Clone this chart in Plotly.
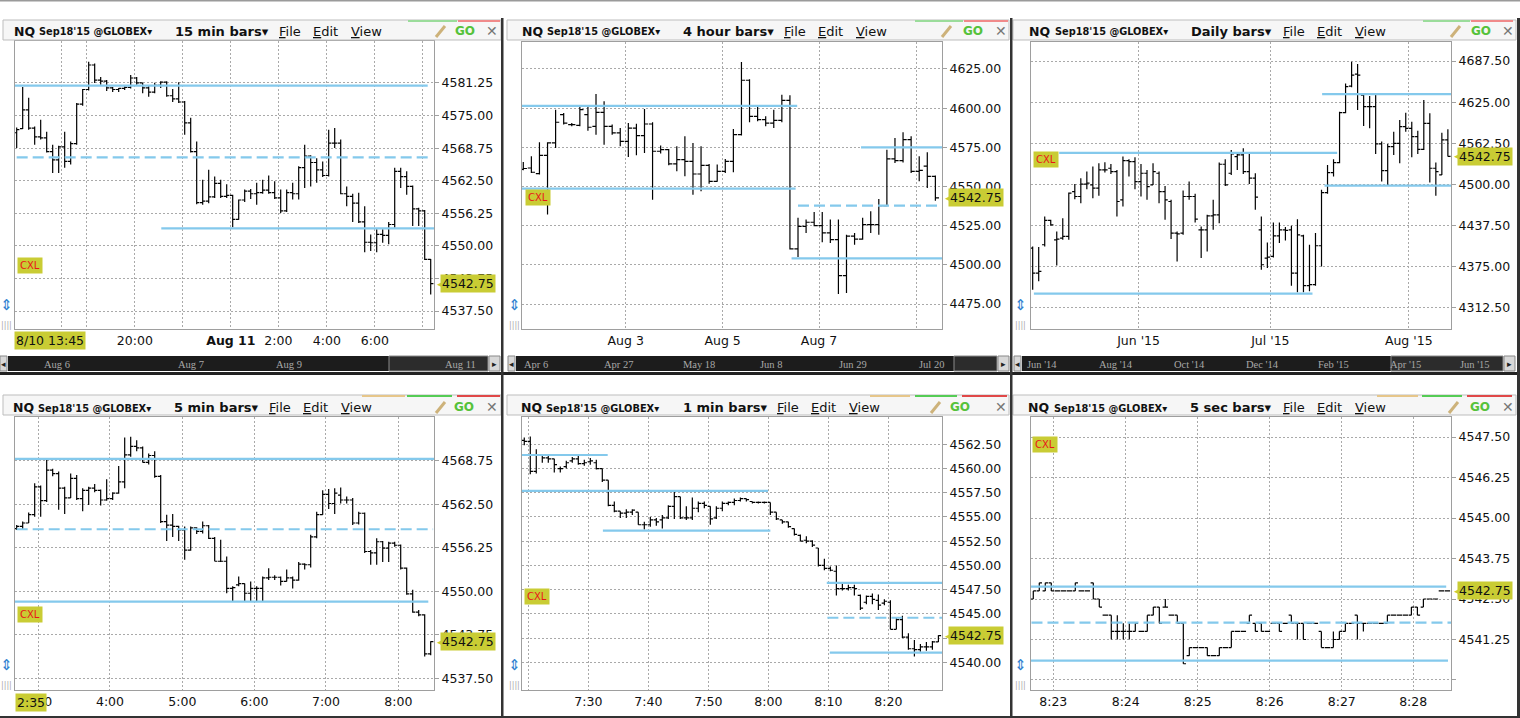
import plotly.graph_objects as go

W, H = 1520, 718
FONT = "DejaVu Sans"
LEVEL_BLUE = "#84c9ec"
LABEL_YELLOW = "#c9cc34"

# ---------- 15 min bars
m15_open = [4571.7, 4572.5, 4576.1, 4572.6, 4570.9, 4570.7, 4568.1, 4566.5, 4569.0, 4566.2,
            4569.6, 4577.2, 4580.0, 4584.7, 4581.8, 4581.6, 4580.3, 4580.0, 4580.2, 4580.4,
            4582.2, 4581.25, 4580.3, 4579.5, 4580.8, 4581.4, 4578.8, 4578.2, 4577.6, 4573.6,
            4568.1, 4558.3, 4558.6, 4559.4, 4562.0, 4559.5, 4559.7, 4555.1, 4558.8, 4560.5,
            4560.0, 4560.2, 4560.7, 4560.2, 4559.2, 4556.7, 4560.2, 4560.0, 4565.0, 4567.2,
            4566.0, 4564.6, 4563.5, 4569.7, 4569.7, 4560.0, 4559.5, 4558.2, 4554.6, 4550.7,
            4550.6, 4552.2, 4552.0, 4554.1, 4564.3, 4563.3, 4561.4, 4557.1, 4556.7, 4547.4]
m15_high = [4572.7, 4580.5, 4578.4, 4572.9, 4574.2, 4571.9, 4569.4, 4569.2, 4571.9, 4570.0,
            4577.4, 4580.1, 4585.3, 4585.0, 4582.4, 4581.8, 4580.5, 4580.3, 4580.6, 4582.8,
            4582.4, 4581.3, 4580.8, 4581.3, 4581.6, 4581.6, 4580.1, 4581.4, 4577.8, 4574.6,
            4570.0, 4562.7, 4564.6, 4563.3, 4562.7, 4561.8, 4559.8, 4558.9, 4560.8, 4560.9,
            4562.1, 4562.7, 4563.5, 4562.4, 4560.8, 4560.8, 4562.1, 4565.3, 4569.4, 4567.4,
            4566.8, 4566.2, 4572.3, 4572.6, 4570.4, 4561.4, 4560.0, 4560.2, 4557.6, 4552.2,
            4553.2, 4553.2, 4554.6, 4565.0, 4565.0, 4564.3, 4561.6, 4557.3, 4556.9, 4547.5]
m15_low = [4568.8, 4572.4, 4572.3, 4569.4, 4570.4, 4567.9, 4564.0, 4564.0, 4565.0, 4565.6,
           4569.4, 4576.9, 4579.8, 4581.25, 4580.9, 4579.7, 4579.5, 4579.5, 4579.9, 4580.2,
           4580.9, 4579.3, 4578.6, 4579.3, 4580.3, 4578.6, 4577.6, 4577.4, 4571.3, 4567.9,
           4558.0, 4557.9, 4558.2, 4559.2, 4559.2, 4559.2, 4553.6, 4555.0, 4558.4, 4559.0,
           4557.9, 4560.0, 4560.0, 4559.0, 4556.3, 4556.5, 4558.9, 4558.9, 4561.1, 4561.4,
           4562.1, 4563.2, 4563.3, 4568.8, 4559.9, 4557.6, 4554.6, 4554.4, 4548.8, 4549.0,
           4548.8, 4550.6, 4550.3, 4553.5, 4561.1, 4559.8, 4553.8, 4553.8, 4547.3, 4540.7]
m15_close = [4572.3, 4576.1, 4572.6, 4570.9, 4570.7, 4568.1, 4566.5, 4569.0, 4566.2, 4569.6,
             4577.2, 4580.0, 4584.7, 4581.8, 4581.6, 4580.3, 4580.0, 4580.2, 4580.4, 4582.2,
             4581.25, 4580.3, 4579.5, 4580.8, 4581.4, 4578.8, 4578.2, 4577.6, 4573.6, 4568.1,
             4558.3, 4558.6, 4559.4, 4562.0, 4559.5, 4559.7, 4555.1, 4558.8, 4560.5, 4560.0,
             4560.2, 4560.7, 4560.2, 4559.2, 4556.7, 4560.2, 4560.0, 4565.0, 4567.2, 4566.0,
             4564.6, 4563.5, 4569.7, 4569.7, 4560.0, 4559.5, 4558.2, 4554.6, 4550.7, 4550.6,
             4552.2, 4552.0, 4554.1, 4564.3, 4563.3, 4561.4, 4557.1, 4556.7, 4547.4, 4542.75]
m15_levels = [4580.75, 4566.97, 4553.35]
m15_level_from = [-0.3, 0.0, 24.1]
m15_level_to = [68.5, 69.2, 69.6]
m15_level_dash = ["solid", "dash", "solid"]
m15_yticks = [4537.5, 4543.75, 4550.0, 4556.25, 4562.5, 4568.75, 4575.0, 4581.25]
m15_xticks = [7.4, 11.7, 19.7, 27.7, 35.7, 43.6, 51.7, 59.7, 67.7]
m15_xlabels = ["", "", "20:00", "", "<b>Aug 11</b>", "2:00", "4:00", "6:00", ""]

# ---------- 4 hour bars
h4_open = [4561.0, 4561.8, 4558.2, 4569.9, 4577.8, 4595.9, 4589.5, 4589.0, 4595.9, 4588.4,
           4597.3, 4588.4, 4584.2, 4578.8, 4587.3, 4582.5, 4589.9, 4572.5, 4573.5, 4564.4,
           4567.2, 4566.1, 4558.0, 4563.5, 4553.3, 4559.7, 4566.1, 4583.1, 4617.8, 4594.8,
           4592.7, 4590.5, 4592.2, 4605.0, 4510.2, 4524.6, 4527.2, 4525.1, 4520.4, 4516.1,
           4493.2, 4518.3, 4516.5, 4525.7, 4525.7, 4537.8, 4567.6, 4566.5, 4579.9, 4559.7,
           4563.0, 4556.5]
h4_high = [4565.7, 4569.3, 4578.2, 4578.2, 4599.0, 4596.9, 4590.5, 4601.2, 4601.2, 4609.0,
           4604.4, 4589.5, 4587.3, 4590.5, 4590.1, 4599.5, 4591.0, 4576.1, 4574.0, 4575.7,
           4582.0, 4577.8, 4575.7, 4564.4, 4564.0, 4567.6, 4586.7, 4629.4, 4618.5, 4600.7,
           4594.8, 4599.0, 4608.6, 4608.2, 4530.0, 4528.9, 4533.8, 4533.8, 4528.9, 4528.9,
           4519.3, 4520.4, 4530.0, 4534.2, 4542.1, 4573.5, 4581.0, 4584.6, 4582.0, 4569.3,
           4571.8, 4557.0]
h4_low = [4560.3, 4558.7, 4557.6, 4532.1, 4574.6, 4589.5, 4588.4, 4588.4, 4585.6, 4583.1,
          4576.7, 4583.1, 4575.7, 4568.9, 4569.9, 4571.4, 4541.6, 4571.0, 4563.5, 4559.7,
          4556.5, 4544.8, 4547.0, 4551.8, 4553.0, 4558.6, 4559.1, 4582.5, 4591.0, 4591.6,
          4588.4, 4587.3, 4591.0, 4509.8, 4505.1, 4520.4, 4524.6, 4514.4, 4514.0, 4481.5,
          4482.1, 4512.9, 4516.0, 4520.4, 4519.3, 4537.4, 4565.0, 4565.4, 4558.6, 4553.3,
          4549.1, 4541.0]
h4_close = [4561.5, 4559.1, 4569.9, 4577.8, 4591.0, 4590.5, 4589.5, 4599.0, 4587.8, 4597.3,
            4588.4, 4584.2, 4578.8, 4587.3, 4582.5, 4589.9, 4572.5, 4573.5, 4564.4, 4567.2,
            4566.1, 4558.0, 4563.5, 4553.3, 4559.7, 4566.1, 4583.1, 4617.8, 4594.8, 4592.7,
            4590.5, 4592.2, 4605.0, 4510.2, 4524.6, 4527.2, 4525.1, 4520.4, 4516.1, 4493.2,
            4518.3, 4516.5, 4525.7, 4525.7, 4537.8, 4567.6, 4566.5, 4579.9, 4559.7, 4560.3,
            4556.5, 4542.75]
h4_levels = [4601.5, 4548.7, 4575.0, 4537.8, 4504.2]
h4_level_from = [-0.5, -0.2, 41.8, 34.0, 33.2]
h4_level_to = [33.9, 33.7, 52.5, 51.8, 53.7]
h4_level_dash = ["solid", "solid", "solid", "dash", "solid"]
h4_yticks = [4475.0, 4500.0, 4525.0, 4550.0, 4575.0, 4600.0, 4625.0]
h4_xticks = [12.67, 24.67, 36.6, 48.66]
h4_xlabels = ["Aug 3", "Aug 5", "Aug 7", ""]

# ---------- daily bars
d1_open = [4403.4, 4365.5, 4408.5, 4445.4, 4416.0, 4418.6, 4421.1, 4489.3, 4481.8, 4500.5,
           4499.4, 4494.4, 4522.2, 4524.7, 4519.7, 4476.7, 4536.3, 4534.8, 4504.5, 4517.1,
           4499.4, 4517.1, 4489.3, 4474.2, 4426.2, 4426.2, 4481.8, 4481.8, 4431.2, 4431.2,
           4452.4, 4454.0, 4530.8, 4517.1, 4542.4, 4544.9, 4519.7, 4509.6, 4431.2, 4388.2,
           4390.8, 4422.1, 4431.2, 4431.2, 4365.5, 4422.1, 4346.3, 4347.8, 4407.0, 4487.8,
           4518.1, 4533.3, 4609.1, 4649.6, 4667.8, 4635.9, 4618.2, 4618.2, 4561.6, 4521.2,
           4557.6, 4562.6, 4587.9, 4585.4, 4572.7, 4553.5, 4593.0, 4524.7, 4514.6, 4567.7]
d1_high = [4405.9, 4404.9, 4451.4, 4446.4, 4428.7, 4448.9, 4487.8, 4500.9, 4509.6, 4519.7,
           4527.2, 4532.3, 4533.8, 4531.3, 4522.2, 4542.4, 4538.4, 4541.4, 4531.3, 4522.2,
           4532.3, 4519.7, 4497.9, 4476.7, 4428.7, 4490.9, 4504.5, 4485.8, 4436.3, 4454.0,
           4476.7, 4533.3, 4538.4, 4552.5, 4547.5, 4555.0, 4547.5, 4517.1, 4451.4, 4412.0,
           4442.3, 4442.3, 4435.3, 4437.3, 4447.4, 4423.6, 4408.5, 4426.2, 4491.9, 4529.8,
           4538.4, 4610.7, 4653.6, 4686.5, 4682.9, 4635.9, 4634.4, 4635.9, 4565.2, 4561.6,
           4580.3, 4598.0, 4609.1, 4595.5, 4581.8, 4628.4, 4608.1, 4533.3, 4578.8, 4583.9]
d1_low = [4340.2, 4352.9, 4405.9, 4437.3, 4377.1, 4416.0, 4416.0, 4477.7, 4471.6, 4492.9,
          4479.2, 4482.8, 4518.1, 4516.1, 4451.4, 4466.6, 4512.1, 4492.9, 4481.8, 4476.7,
          4499.4, 4471.6, 4446.4, 4417.1, 4383.2, 4423.6, 4476.7, 4442.3, 4388.2, 4398.3,
          4431.2, 4441.3, 4497.9, 4514.6, 4522.2, 4516.1, 4500.9, 4461.5, 4370.5, 4373.1,
          4389.0, 4411.0, 4415.0, 4346.3, 4336.2, 4336.2, 4337.7, 4346.3, 4375.6, 4485.8,
          4512.1, 4532.3, 4608.1, 4647.6, 4613.2, 4588.9, 4585.4, 4546.5, 4504.5, 4499.4,
          4544.9, 4532.3, 4580.3, 4541.4, 4546.5, 4552.5, 4503.0, 4482.8, 4514.6, 4542.4]
d1_close = [4365.5, 4368.0, 4445.4, 4438.8, 4417.1, 4421.1, 4486.8, 4481.8, 4500.5, 4502.0,
            4494.4, 4522.2, 4522.2, 4519.7, 4474.2, 4536.3, 4534.8, 4504.5, 4517.1, 4496.9,
            4519.7, 4489.3, 4476.7, 4426.2, 4425.1, 4481.8, 4481.8, 4447.4, 4431.2, 4452.4,
            4454.0, 4530.8, 4499.4, 4546.5, 4544.9, 4519.7, 4509.6, 4480.7, 4378.1, 4389.8,
            4422.1, 4431.2, 4430.2, 4365.5, 4423.6, 4346.3, 4347.8, 4407.0, 4487.8, 4518.1,
            4533.3, 4609.1, 4648.6, 4666.3, 4666.3, 4618.2, 4618.2, 4561.6, 4521.2, 4557.6,
            4562.6, 4587.9, 4585.4, 4572.7, 4553.5, 4593.0, 4524.7, 4519.7, 4567.7, 4542.75]
d1_levels = [4548.0, 4334.1, 4637.4, 4498.4]
d1_level_from = [4.4, 0.2, 48.1, 48.5]
d1_level_to = [50.6, 46.5, 70.2, 70.8]
d1_level_dash = ["solid", "solid", "solid", "solid"]
d1_yticks = [4312.5, 4375.0, 4437.5, 4500.0, 4562.5, 4625.0, 4687.5]
d1_xticks = [17.6, 39.5, 62.5]
d1_xlabels = ["Jun '15", "Jul '15", "Aug '15"]

# ---------- 5 min bars
m5_open = [4559.0, 4559.3, 4559.8, 4561.0, 4565.0, 4563.0, 4567.4, 4566.9, 4564.8, 4563.4,
           4566.2, 4563.3, 4564.5, 4564.8, 4564.5, 4563.1, 4563.3, 4564.1, 4565.7, 4569.6,
           4570.8, 4570.6, 4568.5, 4569.5, 4566.5, 4560.0, 4559.5, 4559.3, 4558.8, 4555.9,
           4559.1, 4558.6, 4559.4, 4557.6, 4554.3, 4554.3, 4550.4, 4550.9, 4551.1, 4549.7,
           4550.4, 4550.4, 4551.9, 4552.0, 4552.0, 4551.4, 4551.9, 4551.6, 4553.9, 4553.8,
           4557.8, 4561.0, 4563.9, 4562.6, 4563.8, 4563.1, 4563.1, 4559.8, 4561.2, 4555.7,
           4555.5, 4557.1, 4556.2, 4556.9, 4556.6, 4553.3, 4549.6, 4547.0, 4546.6, 4541.0]
m5_high = [4559.5, 4560.0, 4561.3, 4565.5, 4565.2, 4568.9, 4567.6, 4567.2, 4565.0, 4566.9,
           4566.7, 4564.8, 4565.0, 4565.4, 4564.6, 4566.1, 4564.2, 4568.0, 4572.1, 4572.2,
           4571.7, 4570.8, 4569.8, 4570.1, 4566.7, 4561.0, 4561.1, 4559.4, 4559.3, 4559.3,
           4559.2, 4560.0, 4559.5, 4557.8, 4557.4, 4555.0, 4550.7, 4552.1, 4551.1, 4551.4,
           4550.7, 4552.1, 4553.3, 4552.3, 4552.1, 4553.1, 4552.1, 4554.2, 4554.0, 4558.1,
           4561.4, 4564.5, 4564.7, 4564.8, 4564.9, 4563.6, 4563.4, 4561.4, 4561.3, 4555.9,
           4557.6, 4557.2, 4557.1, 4557.1, 4556.7, 4553.4, 4550.2, 4547.3, 4546.7, 4542.8]
m5_low = [4558.8, 4558.8, 4559.8, 4560.7, 4560.7, 4562.8, 4566.5, 4561.7, 4561.1, 4563.4,
          4563.1, 4561.5, 4562.4, 4564.2, 4562.3, 4563.0, 4563.1, 4564.0, 4564.8, 4569.3,
          4570.1, 4568.5, 4568.2, 4566.3, 4559.8, 4557.2, 4557.8, 4557.2, 4554.5, 4555.8,
          4558.2, 4558.3, 4557.5, 4554.3, 4554.2, 4549.7, 4548.5, 4550.7, 4548.6, 4548.6,
          4548.6, 4548.6, 4551.6, 4551.6, 4550.8, 4551.4, 4550.4, 4551.5, 4553.1, 4553.4,
          4557.6, 4561.0, 4561.8, 4561.1, 4562.6, 4562.6, 4559.5, 4559.6, 4555.5, 4553.8,
          4553.8, 4554.2, 4554.2, 4556.4, 4553.1, 4549.5, 4546.9, 4546.4, 4540.6, 4540.8]
m5_close = [4559.3, 4559.8, 4561.0, 4565.0, 4563.0, 4567.4, 4566.9, 4564.8, 4563.4, 4566.2,
            4563.3, 4564.5, 4564.8, 4564.5, 4563.1, 4563.3, 4564.1, 4565.7, 4569.6, 4570.8,
            4570.6, 4568.5, 4569.5, 4566.5, 4560.0, 4559.5, 4559.3, 4558.8, 4555.9, 4559.1,
            4558.6, 4559.4, 4557.6, 4554.3, 4554.3, 4550.4, 4550.5, 4551.1, 4549.7, 4550.4,
            4550.4, 4551.9, 4552.0, 4552.0, 4551.4, 4551.9, 4551.6, 4553.9, 4553.8, 4557.8,
            4561.0, 4563.9, 4562.6, 4564.1, 4563.1, 4563.1, 4559.8, 4561.2, 4555.7, 4555.5,
            4557.1, 4556.2, 4556.9, 4556.6, 4553.3, 4549.6, 4547.0, 4546.6, 4541.0, 4542.75]
m5_levels = [4569.0, 4558.9, 4548.5]
m5_level_from = [-0.3, 0.0, -0.3]
m5_level_to = [70.9, 69.4, 68.6]
m5_level_dash = ["solid", "dash", "solid"]
m5_yticks = [4537.5, 4543.75, 4550.0, 4556.25, 4562.5, 4568.75]
m5_xticks = [3.6, 15.55, 27.6, 39.6, 51.55, 63.6]
m5_xlabels = ["3:00", "4:00", "5:00", "6:00", "7:00", "8:00"]

# ---------- 1 min bars
m1_open = [4562.9, 4562.8, 4559.7, 4561.4, 4561.1, 4561.0, 4560.0, 4560.2, 4560.8, 4561.0,
           4560.5, 4560.7, 4560.6, 4560.0, 4558.8, 4556.2, 4555.6, 4555.4, 4555.5, 4555.5,
           4554.2, 4554.2, 4554.7, 4554.7, 4554.9, 4556.1, 4557.1, 4554.9, 4554.9, 4555.9,
           4556.4, 4556.1, 4554.9, 4555.9, 4556.4, 4556.5, 4556.7, 4556.9, 4556.6, 4556.5,
           4556.5, 4556.5, 4555.5, 4554.7, 4554.5, 4553.8, 4553.1, 4552.6, 4552.5, 4551.8,
           4550.0, 4549.7, 4549.4, 4547.6, 4547.6, 4547.7, 4546.9, 4546.2, 4546.8, 4546.4,
           4546.1, 4546.2, 4543.4, 4544.4, 4542.6, 4541.4, 4541.3, 4541.6, 4541.6, 4542.1]
m1_high = [4563.2, 4563.3, 4562.0, 4561.4, 4561.3, 4561.0, 4560.2, 4560.8, 4561.2, 4561.4,
           4560.9, 4561.1, 4560.9, 4560.0, 4558.8, 4556.6, 4555.6, 4555.8, 4555.8, 4555.5,
           4554.5, 4555.0, 4554.9, 4555.2, 4556.2, 4557.6, 4557.1, 4556.1, 4557.0, 4556.6,
           4556.6, 4556.1, 4556.1, 4556.6, 4556.6, 4556.9, 4557.0, 4556.9, 4556.6, 4556.6,
           4556.6, 4556.5, 4555.5, 4554.7, 4554.5, 4553.8, 4553.2, 4553.0, 4552.6, 4551.8,
           4550.7, 4549.9, 4550.0, 4548.2, 4548.0, 4548.0, 4547.0, 4546.9, 4547.1, 4547.0,
           4546.5, 4546.4, 4544.6, 4544.8, 4543.0, 4542.3, 4541.9, 4542.1, 4542.2, 4542.8]
m1_low = [4562.4, 4559.4, 4559.5, 4560.6, 4560.6, 4559.6, 4559.6, 4560.0, 4560.6, 4560.4,
          4560.3, 4560.4, 4559.9, 4558.6, 4556.1, 4555.5, 4554.9, 4554.9, 4555.2, 4554.2,
          4553.7, 4554.0, 4554.1, 4553.8, 4554.8, 4554.8, 4554.8, 4554.7, 4554.7, 4555.5,
          4555.9, 4554.2, 4554.8, 4555.6, 4556.2, 4556.2, 4556.6, 4556.6, 4556.4, 4556.4,
          4556.4, 4555.2, 4554.7, 4554.3, 4553.9, 4553.1, 4552.5, 4552.3, 4551.9, 4549.9,
          4549.5, 4549.4, 4546.9, 4547.4, 4547.4, 4546.9, 4545.4, 4546.0, 4546.0, 4545.4,
          4545.9, 4543.4, 4543.4, 4542.5, 4541.3, 4540.6, 4541.1, 4541.2, 4541.3, 4542.1]
m1_close = [4562.8, 4559.7, 4561.4, 4561.1, 4561.0, 4560.4, 4560.0, 4560.6, 4561.0, 4560.5,
            4560.6, 4560.8, 4560.0, 4558.8, 4556.2, 4555.6, 4555.4, 4555.5, 4555.7, 4554.2,
            4554.2, 4554.7, 4554.5, 4554.9, 4556.1, 4557.1, 4554.9, 4554.9, 4555.9, 4556.4,
            4556.2, 4554.8, 4555.9, 4556.4, 4556.5, 4556.7, 4556.9, 4556.8, 4556.5, 4556.5,
            4556.5, 4555.5, 4554.8, 4554.5, 4554.0, 4553.2, 4552.5, 4552.5, 4552.1, 4550.0,
            4549.7, 4549.5, 4547.6, 4547.6, 4547.7, 4547.6, 4545.6, 4546.8, 4546.5, 4545.9,
            4546.3, 4543.4, 4544.4, 4542.6, 4541.4, 4541.3, 4541.6, 4541.6, 4542.1, 4542.75]
m1_levels = [4561.4, 4557.7, 4553.6, 4548.2, 4544.6, 4541.0]
m1_level_from = [-1.3, -1.6, 13.1, 50.4, 50.5, 50.9]
m1_level_to = [13.9, 40.6, 41.0, 70.2, 70.4, 69.8]
m1_level_dash = ["solid", "solid", "solid", "solid", "dash", "solid"]
m1_yticks = [4540.0, 4542.5, 4545.0, 4547.5, 4550.0, 4552.5, 4555.0, 4557.5, 4560.0, 4562.5]
m1_xticks = [0.67, 10.67, 20.67, 30.67, 40.67, 50.67, 60.67]
m1_xlabels = ["", "7:30", "7:40", "7:50", "8:00", "8:10", "8:20"]

# ---------- 5 sec bars
s5_open = [4542.5, 4542.75, 4542.75, 4543.0, 4542.75, 4542.75, 4542.75, 4542.75, 4542.75, 4542.75,
           4543.0, 4542.5, 4542.0, 4542.0, 4541.5, 4541.5, 4541.5, 4541.5, 4541.5, 4541.5,
           4542.0, 4542.25, 4542.25, 4542.0, 4542.0, 4541.75, 4540.75, 4541.0, 4541.0, 4541.0,
           4540.75, 4540.75, 4541.0, 4541.0, 4541.5, 4541.5, 4541.75, 4541.75, 4541.75, 4541.5,
           4541.75, 4541.75, 4541.75, 4542.0, 4541.75, 4541.75, 4541.75, 4541.75, 4541.5, 4541.0,
           4541.0, 4541.25, 4541.5, 4541.75, 4542.0, 4541.75, 4541.75, 4541.75, 4541.75, 4541.75,
           4542.0, 4542.0, 4542.0, 4542.0, 4542.25, 4542.25, 4542.5, 4542.5, 4542.75, 4542.75]
s5_high = [4542.75, 4543.0, 4543.0, 4543.0, 4542.75, 4542.75, 4542.75, 4543.0, 4542.75, 4542.75,
           4543.0, 4542.5, 4542.0, 4542.0, 4542.0, 4541.75, 4541.75, 4541.75, 4541.5, 4542.0,
           4542.25, 4542.25, 4542.5, 4542.0, 4542.0, 4541.75, 4541.0, 4541.0, 4541.0, 4541.0,
           4540.75, 4541.0, 4541.0, 4541.5, 4541.5, 4541.5, 4542.0, 4541.75, 4541.75, 4541.5,
           4541.75, 4541.75, 4541.75, 4542.0, 4541.75, 4541.75, 4541.75, 4541.75, 4541.5, 4541.0,
           4541.5, 4541.5, 4541.75, 4541.75, 4542.0, 4541.75, 4541.75, 4541.75, 4541.75, 4542.0,
           4542.0, 4542.0, 4542.0, 4542.25, 4542.25, 4542.5, 4542.5, 4542.5, 4542.75, 4542.75]
s5_low = [4542.5, 4542.75, 4542.75, 4542.75, 4542.75, 4542.75, 4542.75, 4542.75, 4542.75, 4542.75,
          4542.5, 4542.25, 4542.0, 4541.25, 4541.25, 4541.25, 4541.25, 4541.5, 4541.5, 4541.5,
          4542.0, 4541.75, 4542.25, 4542.0, 4541.75, 4540.5, 4540.75, 4541.0, 4541.0, 4540.75,
          4540.75, 4540.75, 4541.0, 4541.0, 4541.5, 4541.5, 4541.75, 4541.5, 4541.5, 4541.5,
          4541.75, 4541.5, 4541.75, 4541.75, 4541.25, 4541.25, 4541.75, 4541.75, 4541.0, 4541.0,
          4541.0, 4541.25, 4541.5, 4541.75, 4541.25, 4541.5, 4541.75, 4541.75, 4541.75, 4541.75,
          4542.0, 4542.0, 4542.0, 4542.0, 4542.0, 4542.25, 4542.5, 4542.5, 4542.75, 4542.75]
s5_close = [4542.75, 4543.0, 4543.0, 4542.75, 4542.75, 4542.75, 4542.75, 4543.0, 4542.75, 4542.75,
            4542.5, 4542.25, 4542.0, 4541.5, 4541.5, 4541.5, 4541.5, 4541.75, 4541.5, 4542.0,
            4542.25, 4541.75, 4542.25, 4542.0, 4541.75, 4540.5, 4541.0, 4541.0, 4541.0, 4540.75,
            4540.75, 4541.0, 4541.0, 4541.5, 4541.5, 4541.5, 4542.0, 4541.5, 4541.5, 4541.5,
            4541.75, 4541.5, 4541.75, 4541.75, 4541.75, 4541.25, 4541.75, 4541.75, 4541.0, 4541.0,
            4541.25, 4541.5, 4541.75, 4541.75, 4541.75, 4541.75, 4541.75, 4541.75, 4541.75, 4542.0,
            4542.0, 4542.0, 4542.0, 4542.25, 4542.0, 4542.5, 4542.5, 4542.5, 4542.75, 4542.75]
s5_levels = [4542.88, 4541.77, 4540.6]
s5_level_from = [-1.7, -0.3, -1.7]
s5_level_to = [68.8, 70.0, 69.1]
s5_level_dash = ["solid", "dash", "solid"]
s5_yticks = [4540.0, 4541.25, 4542.5, 4543.75, 4545.0, 4546.25, 4547.5]
s5_ytext = ["", "4541.25", "4542.50", "4543.75", "4545.00", "4546.25", "4547.50"]
s5_xticks = [3.33, 15.4, 27.4, 39.4, 51.4, 63.3]
s5_xlabels = ["8:23", "8:24", "8:25", "8:26", "8:27", "8:28"]

panels = [
    dict(bars="15 min bars", o=m15_open, h=m15_high, l=m15_low, c=m15_close,
         lv=m15_levels, lf=m15_level_from, lt=m15_level_to, ld=m15_level_dash,
         yt=m15_yticks, ytext=None, xt=m15_xticks, xtext=m15_xlabels,
         box=(15, 41, 434, 329), xr=(-0.28, 69.55), yr=(4534.06, 4589.3),
         head=(12, 37, 173, 277, 311, 349, 441, 453, 484), hy=31, cxl=(30, 266), icon=(6, 305)),
    dict(bars="4 hour bars", o=h4_open, h=h4_high, l=h4_low, c=h4_close,
         lv=h4_levels, lf=h4_level_from, lt=h4_level_to, ld=h4_level_dash,
         yt=h4_yticks, ytext=None, xt=h4_xticks, xtext=h4_xlabels,
         box=(522, 42, 942, 329), xr=(-0.16, 51.82), yr=(4459.1, 4642.2),
         head=(520, 545, 681, 782, 816, 854, 947, 961, 993), hy=31, cxl=(538, 197), icon=(514, 305)),
    dict(bars="Daily bars", o=d1_open, h=d1_high, l=d1_low, c=d1_close,
         lv=d1_levels, lf=d1_level_from, lt=d1_level_to, ld=d1_level_dash,
         yt=d1_yticks, ytext=None, xt=d1_xticks, xtext=d1_xlabels,
         box=(1031, 42, 1451, 329), xr=(-0.28, 69.52), yr=(4280.5, 4716.5),
         head=(1027, 1053, 1189, 1281, 1315, 1353, 1456, 1469, 1500), hy=31, cxl=(1046, 160), icon=(1021, 305)),
    dict(bars="5 min bars", o=m5_open, h=m5_high, l=m5_low, c=m5_close,
         lv=m5_levels, lf=m5_level_from, lt=m5_level_to, ld=m5_level_dash,
         yt=m5_yticks, ytext=None, xt=m5_xticks, xtext=m5_xlabels,
         box=(15, 417, 434, 690), xr=(-0.28, 69.55), yr=(4535.8, 4575.03),
         head=(11, 36, 172, 267, 301, 339, 441, 452, 484), hy=407, cxl=(30, 614), icon=(6, 665)),
    dict(bars="1 min bars", o=m1_open, h=m1_high, l=m1_low, c=m1_close,
         lv=m1_levels, lf=m1_level_from, lt=m1_level_to, ld=m1_level_dash,
         yt=m1_yticks, ytext=None, xt=m1_xticks, xtext=m1_xlabels,
         box=(522, 417, 942, 690), xr=(-0.38, 69.6), yr=(4537.14, 4565.32),
         head=(519, 544, 681, 775, 809, 847, 936, 948, 993), hy=407, cxl=(537, 596), icon=(514, 665)),
    dict(bars="5 sec bars", o=s5_open, h=s5_high, l=s5_low, c=s5_close,
         lv=s5_levels, lf=s5_level_from, lt=s5_level_to, ld=s5_level_dash,
         yt=s5_yticks, ytext=s5_ytext, xt=s5_xticks, xtext=s5_xlabels,
         box=(1031, 417, 1451, 690), xr=(-0.38, 69.6), yr=(4539.69, 4548.12),
         head=(1026, 1052, 1188, 1281, 1315, 1353, 1454, 1468, 1500), hy=407, cxl=(1045, 444), icon=(1021, 665)),
]

shapes = []
annotations = []


def px(x):
    return x / W


def py(y):
    return 1 - y / H


def rect(x0, y0, x1, y1, fill, line=None, lw=1):
    shapes.append(dict(type="rect", xref="paper", yref="paper",
                       x0=px(x0), x1=px(x1), y0=py(y1), y1=py(y0),
                       fillcolor=fill, line=dict(color=line or "rgba(0,0,0,0)", width=lw if line else 0)))


def text(x, y, s, size=12.5, color="#111", anchor="left", bg=None, family=FONT, pad=1):
    annotations.append(dict(xref="paper", yref="paper", x=px(x), y=py(y), text=s, showarrow=False,
                            xanchor=anchor, yanchor="middle", bgcolor=bg, borderpad=pad,
                            font=dict(size=size, color=color, family=family)))


fig = go.Figure()
layout = {}

for i, p in enumerate(panels, start=1):
    xa = "x" if i == 1 else f"x{i}"
    ya = "y" if i == 1 else f"y{i}"
    n = len(p["o"])

    # support / resistance levels
    for lvl, a, b, d in zip(p["lv"], p["lf"], p["lt"], p["ld"]):
        fig.add_trace(go.Scatter(
            x=[a, b], y=[lvl, lvl], mode="lines", xaxis=xa, yaxis=ya,
            line=dict(color=LEVEL_BLUE, width=2.2, dash="11px,5px" if d == "dash" else "solid"),
            hoverinfo="skip", showlegend=False))

    fig.add_trace(go.Ohlc(
        x=list(range(n)), open=p["o"], high=p["h"], low=p["l"], close=p["c"],
        xaxis=xa, yaxis=ya, tickwidth=0.45,
        increasing=dict(line=dict(color="black", width=1.2)),
        decreasing=dict(line=dict(color="black", width=1.2)),
        hoverinfo="skip", showlegend=False))

    x0, y0, x1, y1 = p["box"]
    sfx = "" if i == 1 else str(i)
    layout["xaxis" + sfx] = dict(
        domain=[px(x0), px(x1)], anchor=ya, range=list(p["xr"]),
        tickmode="array", tickvals=p["xt"], ticktext=p["xtext"],
        showgrid=True, gridcolor="#a9a9a9", gridwidth=1, griddash="2px,2px",
        showline=True, mirror=True, linecolor="#9e9e9e", linewidth=1,
        ticks="", zeroline=False, fixedrange=True,
        rangeslider=dict(visible=False),
        tickfont=dict(size=12.5, color="#111", family=FONT))
    yax = dict(
        domain=[py(y1), py(y0)], anchor=xa, side="right", range=list(p["yr"]),
        tickmode="array", tickvals=p["yt"],
        showgrid=True, gridcolor="#a9a9a9", gridwidth=1, griddash="2px,2px",
        showline=True, mirror=True, linecolor="#9e9e9e", linewidth=1,
        ticks="outside", ticklen=4, tickcolor="#a0a0a0",
        zeroline=False, fixedrange=True,
        tickfont=dict(size=12.5, color="#111", family=FONT))
    if p["ytext"] is None:
        yax["tickformat"] = ".2f"
    else:
        yax["ticktext"] = p["ytext"]
    layout["yaxis" + sfx] = yax

    # last price marker on the price scale
    annotations.append(dict(xref=f"{xa} domain", yref=ya, x=1, y=p["c"][-1], text="◀",
                            showarrow=False, xanchor="left", yanchor="middle", xshift=1,
                            font=dict(size=9, color=LABEL_YELLOW, family=FONT)))
    annotations.append(dict(xref=f"{xa} domain", yref=ya, x=1, y=p["c"][-1],
                            text=f"{p['c'][-1]:.2f}", showarrow=False, xanchor="left",
                            yanchor="middle", xshift=6, bgcolor=LABEL_YELLOW, borderpad=1,
                            font=dict(size=12.5, color="#111", family=FONT)))

    # window chrome: header bar
    top = 20 if p["hy"] < 100 else 395
    left = {15: 3, 522: 507, 1031: 1013}[x0]
    right = {15: 501, 522: 1009, 1031: 1516}[x0]
    rect(left, top, right, top + 20, "#f6f6f6", "#bdbdbd")
    hx = p["head"]
    hy = p["hy"]
    text(hx[0], hy, "<b>NQ</b>", size=12.5)
    text(hx[1], hy + 1, "<b>Sep18'15 @GLOBEX▾</b>", size=9.8)
    text(hx[2], hy, f"<b>{p['bars']}▾</b>", size=13)
    text(hx[3], hy, "<u>F</u>ile", size=13)
    text(hx[4], hy, "<u>E</u>dit", size=13)
    text(hx[5], hy, "<u>V</u>iew", size=13)
    shapes.append(dict(type="line", xref="paper", yref="paper",
                       x0=px(hx[6] - 5), y0=py(hy + 6), x1=px(hx[6] + 4), y1=py(hy - 5),
                       line=dict(color="#cdb27a", width=3)))
    text(hx[7], hy, "<b>GO</b>", size=12, color="#55c23a")
    text(hx[8], hy, "✕", size=14, color="#777")

    # order marker and scale icon
    text(p["cxl"][0], p["cxl"][1], "CXL", size=10, color="#e8141a", anchor="center", bg=LABEL_YELLOW, pad=2)
    text(p["icon"][0], p["icon"][1], "⇕", size=15, color="#2e7fd0", anchor="center")
    text(p["icon"][0], p["icon"][1] + 20, "||||", size=8, color="#aaaaaa", anchor="center")

# status strips on the header tops
for x0, x1, y, col in [
    (408, 457, 20, "#9bdc9b"), (458, 500, 20, "#f08a8a"),
    (915, 963, 20, "#9bdc9b"), (964, 1008, 20, "#f08a8a"),
    (1423, 1470, 20, "#9bdc9b"), (1471, 1513, 20, "#f08a8a"),
    (362, 405, 395, "#e6c68a"), (407, 452, 395, "#55cc55"), (457, 500, 395, "#e04848"),
    (870, 910, 395, "#e6c68a"), (915, 957, 395, "#55cc55"), (962, 1007, 395, "#e04848"),
    (1377, 1418, 395, "#e6c68a"), (1422, 1462, 395, "#55cc55"), (1467, 1512, 395, "#e04848"),
]:
    rect(x0, y, x1, y + 2, col)

# time-scroll navigators (top row)
for x0, thumb, x1, labels in [
    (8, 389, 488, [(57, "Aug 6"), (191, "Aug 7"), (289, "Aug 9"), (460, "Aug 11")]),
    (516, 954, 997, [(536, "Apr 6"), (618, "Apr 27"), (699, "May 18"), (771, "Jun 8"),
                     (853, "Jun 29"), (931, "Jul 20")]),
    (1022, 1391, 1503, [(1042, "Jun '14"), (1116, "Aug '14"), (1189, "Oct '14"), (1262, "Dec '14"),
                        (1333, "Feb '15"), (1405, "Apr '15"), (1475, "Jun '15")]),
]:
    rect(x0 - 8, 356, x0 - 1, 371, "#d8d8d8", "#888")
    rect(x0, 356, thumb, 371, "#1c1c1c")
    rect(thumb, 356, x1, 371, "#2c2c2c", "#8a8a8a")
    rect(x1 + 1, 356, x1 + 12, 371, "#d8d8d8", "#888")
    text(x0 - 5, 363.5, "◂", size=9, color="#222", anchor="center")
    text(x1 + 6, 363.5, "▸", size=9, color="#222", anchor="center")
    for lx, lt in labels:
        text(lx, 364, lt, size=10.5, color="#a8a8a8", anchor="center", family="Liberation Serif")

# highlighted first-bar time stamps
text(14, 341, "8/10 13:45", size=12.5, color="#111", bg=LABEL_YELLOW)
text(15, 702, "2:35", size=12.5, color="#111", bg=LABEL_YELLOW)

# frame separators
rect(0, 0, W, 1.5, "#9a9a9a")
rect(0, 372, W, 375, "#222222")
for x in (501, 1010):
    rect(x, 18, x + 2.5, 718, "#333333")
rect(1517, 18, 1520, 718, "#333333")
rect(0, 716, W, 718, "#333333")

fig.update_layout(
    width=W, height=H, margin=dict(l=0, r=0, t=0, b=0),
    paper_bgcolor="white", plot_bgcolor="white",
    font=dict(family=FONT, size=12.5, color="#111"),
    showlegend=False, hovermode=False, dragmode=False,
    shapes=shapes, annotations=annotations,
    **layout,
)

# the page body carries a default 8px margin; drop it so the chart fills the window
fig.write_html("out.html", config={"displayModeBar": False},
               post_script="document.body.style.margin='0px';document.body.style.overflow='hidden';")
